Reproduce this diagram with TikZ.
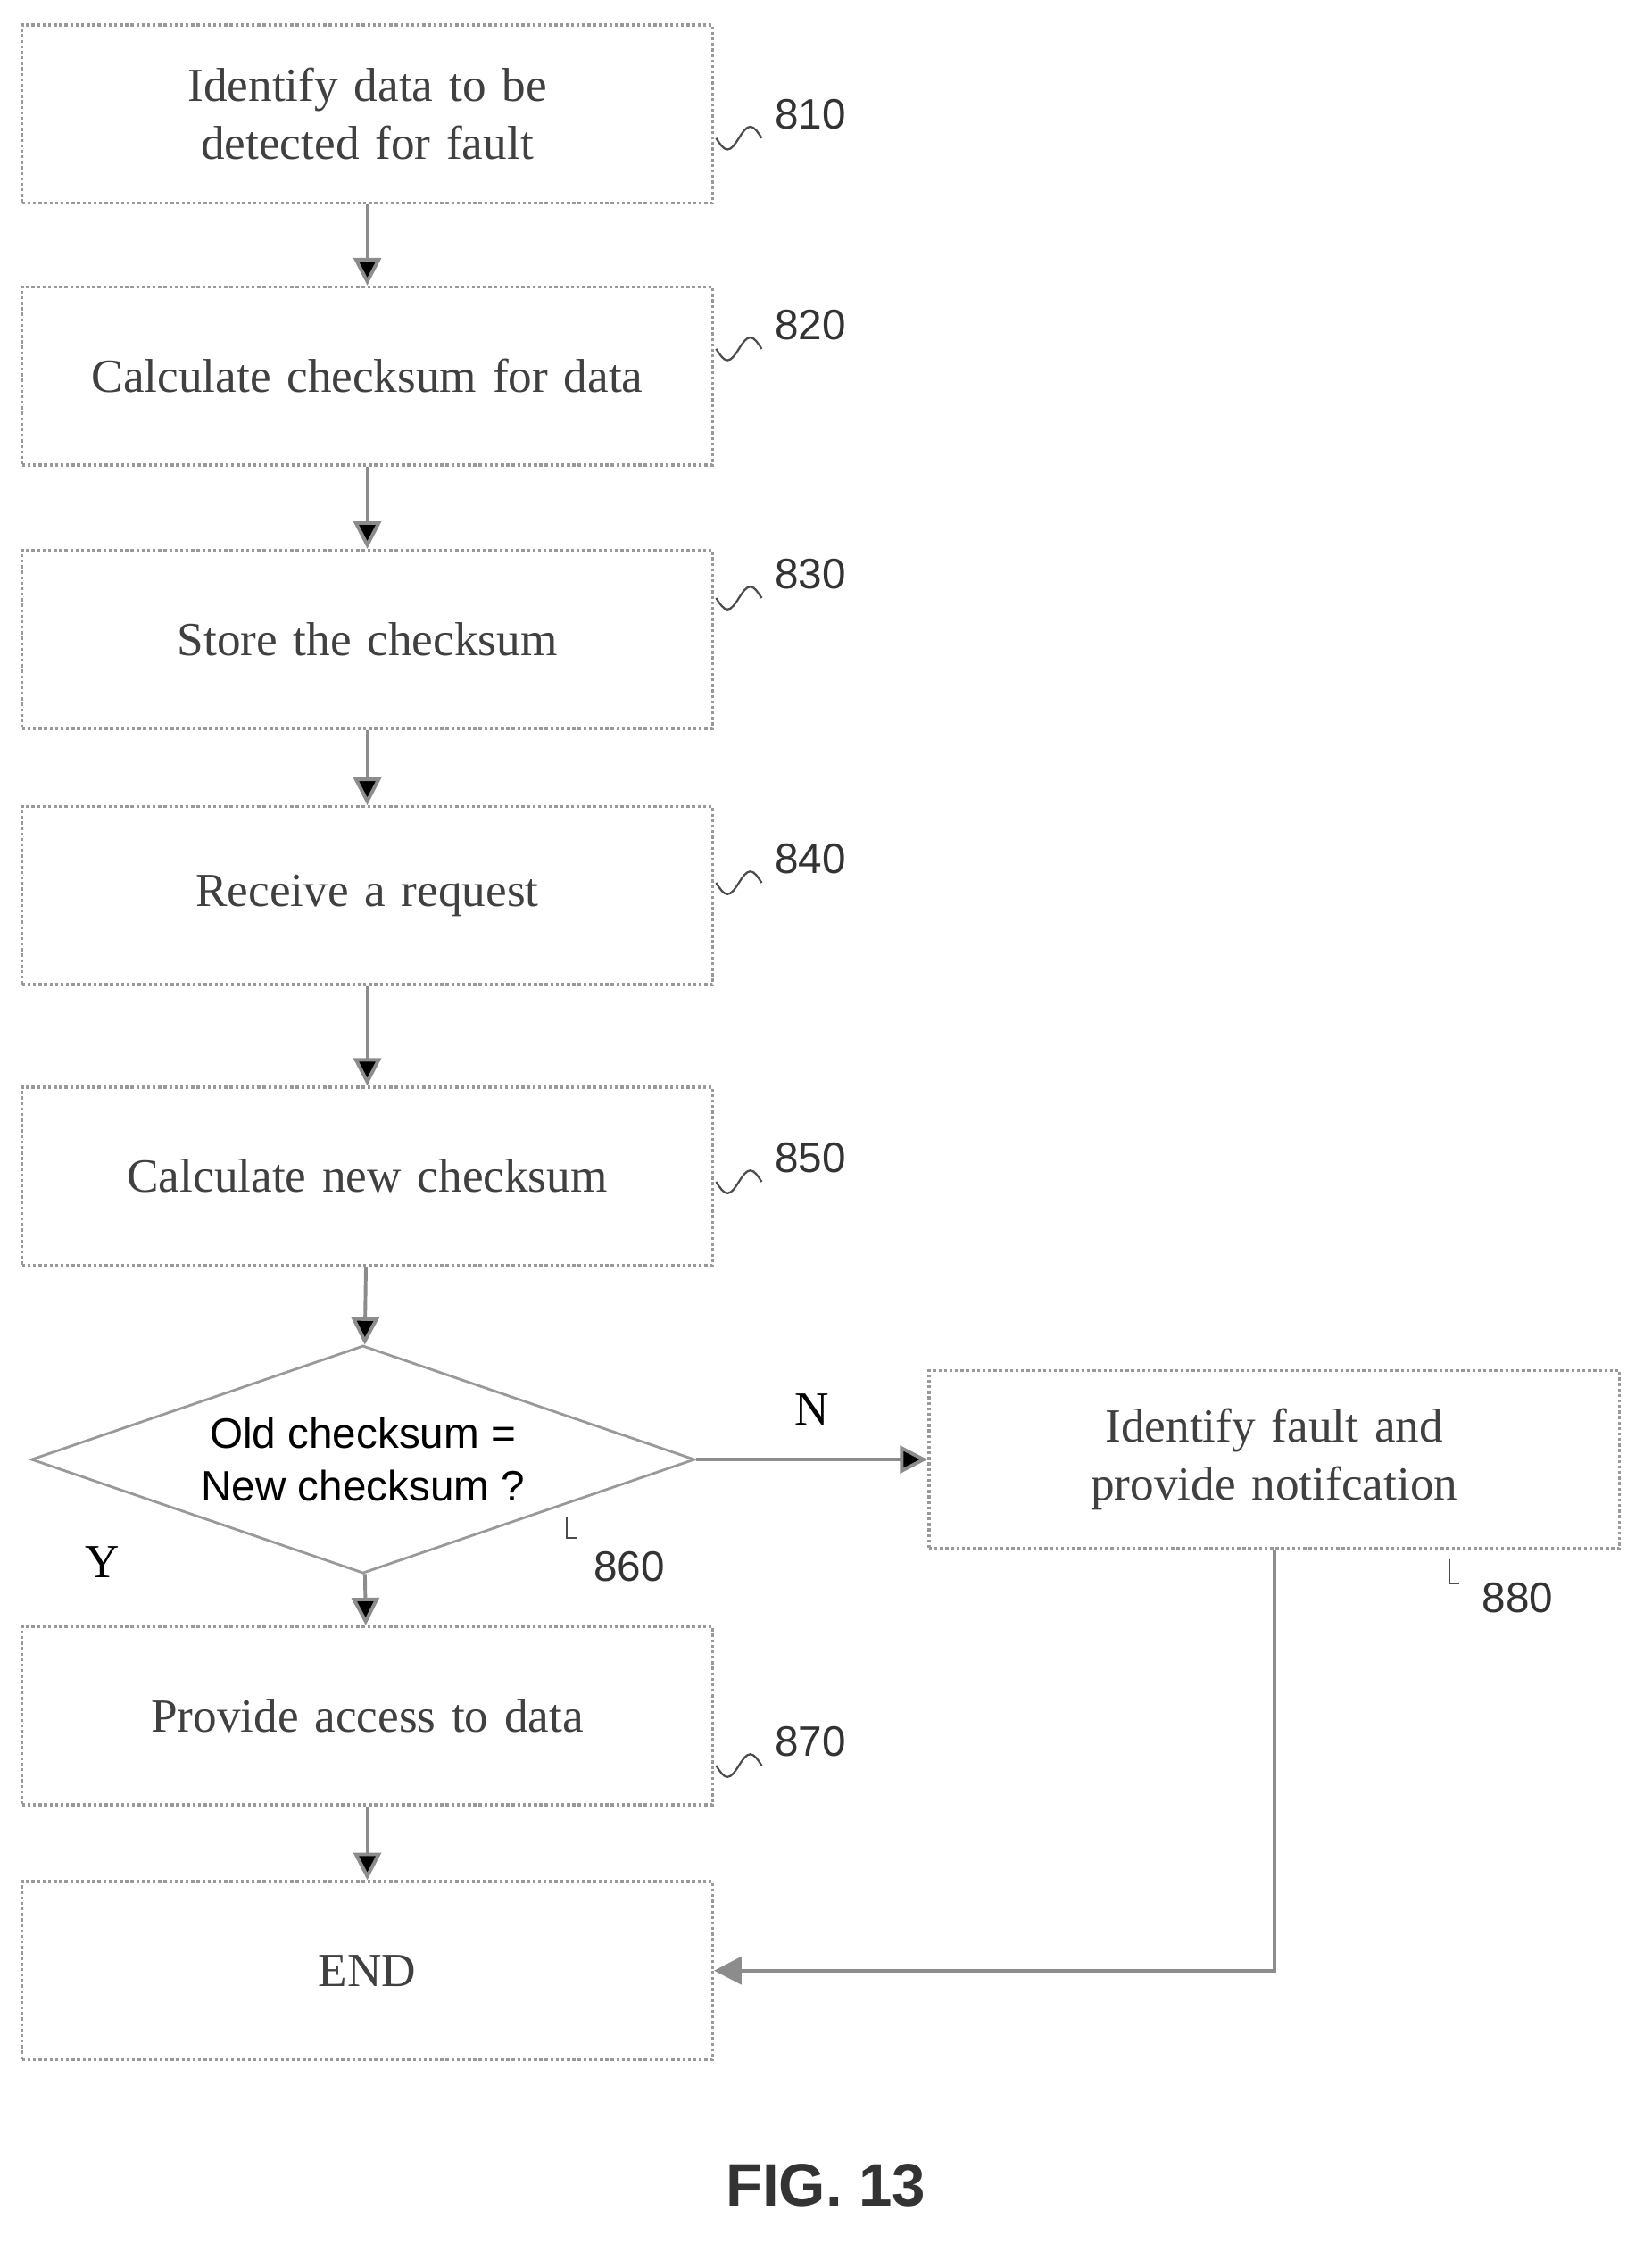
\documentclass[tikz,border=0pt]{standalone}
\usepackage{fontspec}
\setmainfont{Liberation Serif}
\setsansfont{Liberation Sans}
\usetikzlibrary{shapes.geometric,arrows.meta}

\tikzset{
	procbox/.style={draw=gray!80,line width=1.2pt,densely dotted,minimum width=485*0.02cm,
		minimum height=125*0.02cm,align=center,text width=480*0.02cm,inner xsep=1pt,
		font=\fontsize{19}{23}\selectfont,text=black!75},
	choice/.style={diamond,draw=gray!80,line width=1pt,aspect=2.9,minimum width=466*0.02cm,
		minimum height=160*0.02cm,inner sep=0pt,align=center,font=\sffamily\fontsize{17}{21}\selectfont},
	flow/.style={draw=gray!90,line width=1.4pt,-{Triangle[length=11pt,width=11pt]}},
	tag/.style={font=\sffamily\fontsize{17}{20}\selectfont,text=black!80},
	squig/.style={draw=black!70,line width=0.8pt}
}

\begin{document}
\begin{tikzpicture}[x=0.02cm,y=-0.02cm]
	\useasboundingbox (0,0) rectangle (1160,1576);

	\node[procbox] (s810) at (258,80) {Identify data to be detected for fault};
	\node[procbox] (s820) at (258,264) {Calculate checksum for data};
	\node[procbox] (s830) at (258,449) {Store the checksum};
	\node[procbox] (s840) at (258,629) {Receive a request};
	\node[procbox] (s850) at (258,826) {Calculate new checksum};
	\node[choice] (s860) at (255,1025) {Old checksum =\\New checksum ?};
	\node[procbox] (s880) at (895,1025) {Identify fault and provide notifcation};
	\node[procbox] (s870) at (258,1205) {Provide access to data};
	\node[procbox] (send) at (258,1384) {END};

	\path[flow] (s810) edge (s820)
	            (s820) edge (s830)
	            (s830) edge (s840)
	            (s840) edge (s850)
	            (s850) edge (s860)
	            (s860) edge (s870)
	            (s870) edge (send)
	            (s860) edge (s880);
	\draw[flow] (s880.south) |- (send.east);

	\node[font=\fontsize{19}{22}\selectfont] (lN) at (570,990) {N};
	\node[font=\fontsize{19}{22}\selectfont] (lY) at (72,1097) {Y};

	% reference numerals
	\foreach \lx/\ly/\txt in {503/97/810,503/245/820,503/420/830,503/620/840,503/830/850,503/1240/870}{
		\draw[squig] (\lx,\ly) sin ++(8,8) cos ++(8,-8) sin ++(8,-8) cos ++(8,8);
		\node[tag,anchor=west] at (\lx+35,\ly-17) {\txt};
	}
	\draw[squig] (398,1065) -- (398,1080) -- (405,1080);
	\node[tag] (t860) at (442,1100) {860};
	\draw[squig] (1018,1095) -- (1018,1112) -- (1025,1112);
	\node[tag] (t880) at (1066,1122) {880};

	\node[font=\sffamily\bfseries\fontsize{24}{28}\selectfont,text=black!80] (fig) at (580,1535) {FIG. 13};
\end{tikzpicture}
\end{document}
